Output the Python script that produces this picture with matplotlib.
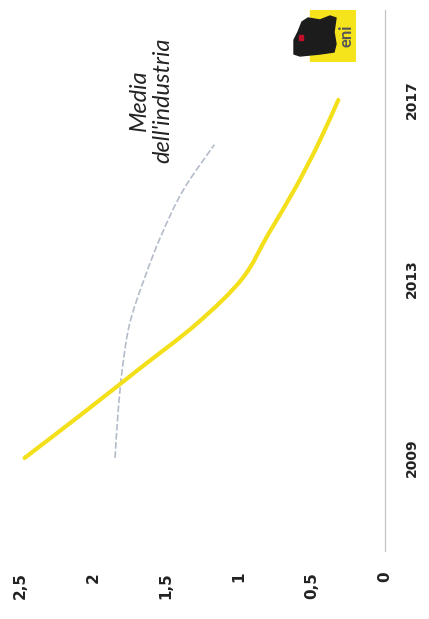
import matplotlib.pyplot as plt
from matplotlib.patches import Rectangle, Polygon, PathPatch
from matplotlib.path import Path

plt.rcParams['font.family'] = ['Lato', 'DejaVu Sans']

# Eni vs industry average (chart is printed rotated 90 degrees)
eni_years = [2009, 2010, 2011, 2012, 2013, 2014, 2015, 2016, 2017]
eni_values = [2.47, 2.07, 1.68, 1.29, 0.98, 0.80, 0.62, 0.46, 0.32]

ind_years = [2009, 2010, 2011, 2012, 2013, 2014, 2015, 2016]
ind_values = [1.85, 1.83, 1.80, 1.75, 1.65, 1.53, 1.38, 1.17]

value_ticks = [0, 0.5, 1, 1.5, 2, 2.5]
value_labels = ['0', '0,5', '1', '1,5', '2', '2,5']
year_ticks = [2009, 2013, 2017]


def smooth_path(xs, ys):
    # catmull-rom through the points, drawn as cubic bezier segments
    pts = list(zip(xs, ys))
    verts = [pts[0]]
    codes = [Path.MOVETO]
    for i in range(len(pts) - 1):
        p0 = pts[i - 1] if i > 0 else pts[i]
        p1, p2 = pts[i], pts[i + 1]
        p3 = pts[i + 2] if i + 2 < len(pts) else pts[i + 1]
        c1 = (p1[0] + (p2[0] - p0[0]) / 6, p1[1] + (p2[1] - p0[1]) / 6)
        c2 = (p2[0] - (p3[0] - p1[0]) / 6, p2[1] - (p3[1] - p1[1]) / 6)
        verts += [c1, c2, p2]
        codes += [Path.CURVE4] * 3
    return Path(verts, codes)


fig = plt.figure(figsize=(4.29, 6.19), dpi=100)
ax = fig.add_axes([10 / 429, 1 - 551 / 619, 375 / 429, 541 / 619])

# values run horizontally (0 on the right), years run upwards
ax.add_patch(PathPatch(smooth_path(ind_values, ind_years), fill=False, edgecolor='#b4bccb',
                       lw=1.2, linestyle=(0, (4, 1.5))))
ax.add_patch(PathPatch(smooth_path(eni_values, eni_years), fill=False, edgecolor='#f3e01a',
                       lw=3, capstyle='round'))

ax.set_xlim(2.57, 0)
ax.set_ylim(2006.92, 2019.01)

for s in ['top', 'left', 'bottom']:
    ax.spines[s].set_visible(False)
ax.spines['right'].set_color('#c4c4c4')
ax.spines['right'].set_linewidth(0.9)

ax.set_xticks(value_ticks)
ax.set_xticklabels(value_labels, rotation=90, fontweight='bold', fontsize=11,
                   color='#222222', family=['DejaVu Sans'])
ax.tick_params(axis='x', length=0, pad=15)

ax.yaxis.tick_right()
ax.set_yticks(year_ticks)
ax.set_yticklabels([str(y) for y in year_ticks], rotation=90, va='center',
                   fontweight='bold', fontsize=10, color='#222222', family=['DejaVu Sans'])
ax.tick_params(axis='y', length=0, pad=14)

ax.text(1.60, 2017.0, "Media\ndell'industria", rotation=90, ha='center', va='center',
        fontsize=17, style='italic', color='#222222', multialignment='center',
        linespacing=1.15)

# eni logo (rough)
lax = fig.add_axes([290 / 429, 1 - 62 / 619, 66 / 429, 52 / 619])
lax.set_xlim(0, 66)
lax.set_ylim(0, 52)
lax.axis('off')
lax.add_patch(Rectangle((20, 0), 46, 52, color='#f5e31c'))
lax.add_patch(Polygon([[4, 8], [10, 6], [30, 8], [44, 10], [46, 18], [44, 30], [46, 44],
                       [40, 46], [30, 42], [18, 44], [12, 40], [8, 30], [4, 22]],
                      closed=True, color='#1c1c1c'))
lax.add_patch(Rectangle((9, 22), 4, 5, color='#c0102a'))
lax.text(57, 26, 'eni', rotation=90, ha='center', va='center', fontsize=12,
         fontweight='bold', color='#555555')

fig.savefig('out.png', dpi=100)
